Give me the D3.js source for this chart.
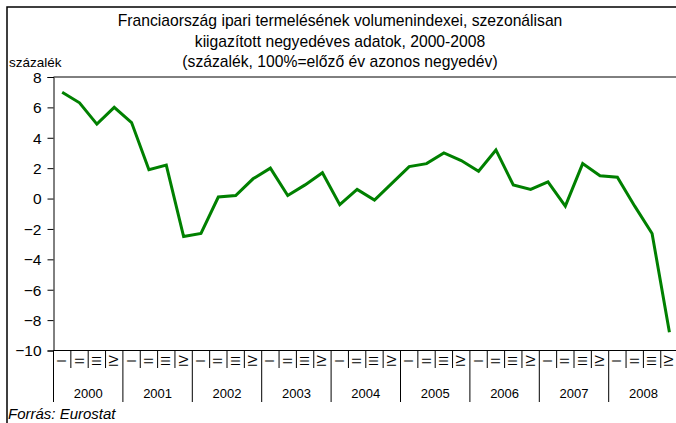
<!DOCTYPE html>
<html>
<head>
<meta charset="utf-8">
<script src="https://cdn.jsdelivr.net/npm/d3@7"></script>
<style>
  html, body { margin: 0; padding: 0; background: #fff; }
  svg { display: block; font-family: Arial, "Liberation Sans", sans-serif; }
</style>
</head>
<body>
<svg id="chart" width="676" height="423"></svg>
<script>
const years = [2000, 2001, 2002, 2003, 2004, 2005, 2006, 2007, 2008];
const quarters = ["I", "II", "III", "IV"];
const values = [
  7.0, 6.3, 4.9, 6.0,
  5.0, 1.9, 2.2, -2.5,
  -2.3, 0.1, 0.2, 1.3,
  2.0, 0.2, 0.9, 1.7,
  -0.4, 0.6, -0.1, 1.0,
  2.1, 2.3, 3.0, 2.5,
  1.8, 3.2, 0.9, 0.6,
  1.1, -0.5, 2.3, 1.5,
  1.4, -0.5, -2.3, -8.8
];
const yTicks = [8, 6, 4, 2, 0, -2, -4, -6, -8, -10];
const titleLines = [
  "Franciaország ipari termelésének volumenindexei, szezonálisan",
  "kiigazított negyedéves adatok, 2000-2008",
  "(százalék, 100%=előző év azonos negyedév)"
];
const yUnit = "százalék";
const source = "Forrás: Eurostat";

const svg = d3.select("#chart");
const pLeft = 53.5, pTop = 77, pBottom = 350.5;
const qWidth = 17.35;
const keys = [];
years.forEach(yr => quarters.forEach(q => keys.push(yr + "-" + q)));

const x = d3.scaleBand().domain(keys).range([pLeft, pLeft + keys.length * qWidth]).padding(0);
const y = d3.scaleLinear().domain([-10, 8]).range([pBottom, pTop]);

// outer frame
svg.append("rect").attr("x", 7).attr("y", 7).attr("width", 800).attr("height", 600)
  .attr("fill", "none").attr("stroke", "#000").attr("stroke-width", 1.5);

// title
titleLines.forEach((t, i) => {
  svg.append("text").attr("x", 340).attr("y", 26 + i * 20.5)
    .attr("text-anchor", "middle").attr("font-size", 15.7).attr("fill", "#000").text(t);
});

// y unit
svg.append("text").attr("x", 9).attr("y", 67).attr("font-size", 13.5).attr("fill", "#000").text(yUnit);

// plot border (top)
svg.append("line").attr("x1", pLeft).attr("x2", 800).attr("y1", pTop).attr("y2", pTop)
  .attr("stroke", "#000").attr("stroke-width", 1);

// y axis
const yAxis = d3.axisLeft(y).tickValues(yTicks).tickSize(6).tickPadding(6).tickFormat(d3.format("d"));
const gy = svg.append("g").attr("transform", `translate(${pLeft},0)`).call(yAxis);
gy.select(".domain").attr("stroke", "#000");
gy.selectAll(".tick line").attr("stroke", "#000");
gy.selectAll(".tick text").attr("font-size", 15.5).attr("fill", "#000")
  .attr("font-family", "Arial, 'Liberation Sans', sans-serif").attr("dy", "0.34em");

// x axis baseline
svg.append("line").attr("x1", pLeft).attr("x2", 800).attr("y1", pBottom).attr("y2", pBottom)
  .attr("stroke", "#000").attr("stroke-width", 1);

// quarter separator ticks
keys.forEach((k, i) => {
  const xs = x(k);
  const isYear = i % 4 === 0;
  svg.append("line").attr("x1", xs).attr("x2", xs).attr("y1", pBottom)
    .attr("y2", isYear ? 402 : 368).attr("stroke", "#000").attr("stroke-width", 1);
});

// quarter labels rotated
keys.forEach((k, i) => {
  const cx = x(k) + x.bandwidth() / 2;
  svg.append("text")
    .attr("transform", `translate(${cx + 4},361) rotate(-90)`)
    .attr("text-anchor", "middle").attr("font-size", 12.5).attr("fill", "#000")
    .text(quarters[i % 4]);
});

// year labels
years.forEach(yr => {
  const x0 = x(yr + "-I"), x1 = x(yr + "-IV") + qWidth;
  svg.append("text").attr("x", (x0 + x1) / 2).attr("y", 398)
    .attr("text-anchor", "middle").attr("font-size", 13).attr("fill", "#000").text(yr);
});

// line
const line = d3.line()
  .x((d, i) => x(keys[i]) + x.bandwidth() / 2)
  .y(d => y(d));
svg.append("path").datum(values).attr("d", line)
  .attr("fill", "none").attr("stroke", "#008000").attr("stroke-width", 3)
  .attr("stroke-linejoin", "miter");

// source
svg.append("text").attr("x", 8).attr("y", 419).attr("font-size", 15)
  .attr("font-style", "italic").attr("fill", "#000").text(source);
</script>
</body>
</html>
